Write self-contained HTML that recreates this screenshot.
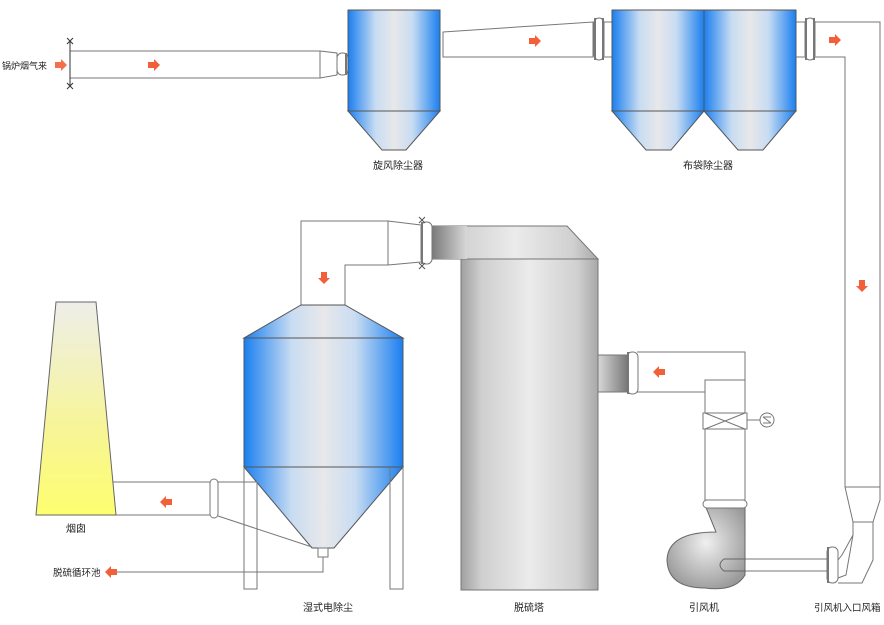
<!DOCTYPE html>
<html><head><meta charset="utf-8"><style>
html,body{margin:0;padding:0;background:#fff;}
svg{display:block;}
text{font-family:"Liberation Sans","Noto Sans CJK SC",sans-serif;font-size:10px;fill:#222;}
</style></head><body>
<svg width="884" height="625" viewBox="0 0 884 625" xmlns="http://www.w3.org/2000/svg">
<defs>
<linearGradient id="blue" x1="0" x2="1" y1="0" y2="0">
<stop offset="0" stop-color="#1a7ff0"/><stop offset="0.3" stop-color="#c8dcf2"/><stop offset="0.5" stop-color="#e8e8ea"/><stop offset="0.7" stop-color="#c8dcf2"/><stop offset="1" stop-color="#1a7ff0"/>
</linearGradient>
<linearGradient id="gray" x1="0" x2="1" y1="0" y2="0">
<stop offset="0" stop-color="#a0a0a0"/><stop offset="0.15" stop-color="#cfcfcf"/><stop offset="0.5" stop-color="#ebebeb"/><stop offset="0.85" stop-color="#d0d0d0"/><stop offset="1" stop-color="#a8a8a8"/>
</linearGradient>
<linearGradient id="grayd" x1="0" x2="1" y1="0" y2="0">
<stop offset="0" stop-color="#7a7a7a"/><stop offset="1" stop-color="#d8d8d8"/>
</linearGradient>
<linearGradient id="grayd2" x1="1" x2="0" y1="0" y2="0">
<stop offset="0" stop-color="#7a7a7a"/><stop offset="1" stop-color="#d8d8d8"/>
</linearGradient>
<linearGradient id="yel" x1="0" x2="0" y1="0" y2="1">
<stop offset="0" stop-color="#eeeeea"/><stop offset="0.6" stop-color="#f7f596"/><stop offset="1" stop-color="#fefe70"/>
</linearGradient>
<radialGradient id="fan" cx="0.5" cy="0.45" r="0.6">
<stop offset="0" stop-color="#f0f0f0"/><stop offset="1" stop-color="#999"/>
</radialGradient>
</defs>
<g fill="none" stroke="#777" stroke-width="1">
<rect x="70" y="51" width="250" height="27" fill="#fff"/>
<path d="M320 51 L337 53 L337 75 L320 78"/>
<path d="M67 38 L73 44 M73 38 L67 44 M67 83 L73 89 M73 83 L67 89" stroke="#333"/>
<line x1="70" y1="41" x2="70" y2="86" stroke="#333"/>
<rect x="337" y="53" width="11" height="22" rx="5"/>
<line x1="346" y1="53" x2="346" y2="75" stroke-width="2"/>
<rect x="348" y="10" width="92" height="101" fill="url(#blue)" stroke="#555"/>
<path d="M348 111 L440 111 L406 150 L382 150 Z" fill="url(#blue)" stroke="#555"/>
<path d="M443 32 L593 22 L593 57 L443 57 Z" fill="#fff"/>
<rect x="594" y="18" width="10" height="42" rx="5" fill="#fff"/>
<line x1="595" y1="18" x2="595" y2="60" stroke-width="2"/>
<line x1="603" y1="18" x2="603" y2="60" stroke-width="2"/>
<line x1="604" y1="22" x2="612" y2="22"/><line x1="604" y1="57" x2="612" y2="57"/>
<rect x="612" y="10" width="92" height="101" fill="url(#blue)" stroke="#555"/>
<rect x="704" y="10" width="92" height="101" fill="url(#blue)" stroke="#555"/>
<path d="M612 111 L704 111 L671 150 L646 150 Z" fill="url(#blue)" stroke="#555"/>
<path d="M704 111 L796 111 L763 150 L738 150 Z" fill="url(#blue)" stroke="#555"/>
<line x1="796" y1="22" x2="805" y2="22"/><line x1="796" y1="57" x2="805" y2="57"/>
<rect x="805" y="18" width="10" height="42" rx="5" fill="#fff"/>
<line x1="806" y1="18" x2="806" y2="60" stroke-width="2"/>
<line x1="814" y1="18" x2="814" y2="60" stroke-width="2"/>
<path d="M815 22 L880 22 L880 487 M815 57 L845 57 L845 487"/>
<path d="M845 487 L880 487 L880 500 L873 522 L853 522 L845 487" />
<path d="M853 522 L873 522 L873 560 L862 583 L838 583 M853 522 L853 535 L842 555 L838 560 M853 535 L846 575 L838 578"/>
<rect x="827" y="547" width="11" height="36" rx="5" fill="#fff"/>
<line x1="828" y1="547" x2="828" y2="583" stroke-width="2"/>
<path d="M718 559 L827 559 M718 571 L827 571"/>
<path d="M705 505 L745 505 L745 575 Q735 592 705 588 Q668 588 667 560 Q668 532 716 532 L705 505 Z" fill="url(#fan)" stroke="#666"/>
<path d="M724 559 L745 559 M724 571 L745 571 M724 559 Q716 565 724 571" stroke="#666"/>
<rect x="703" y="500" width="44" height="8" rx="4" fill="#fff"/>
<rect x="705" y="380" width="40" height="120"/>
<rect x="703" y="413" width="44" height="16" fill="#fff"/>
<path d="M705 413 L745 429 M745 413 L705 429"/>
<line x1="747" y1="420" x2="760" y2="420"/>
<circle cx="767" cy="420" r="7" fill="#fff"/>
<path d="M763 417 L771 417 M763 423 L771 423 M763 417 L771 423"/>
<path d="M637 352 L745 352 L745 413 M637 392 L705 392 L705 413"/>
<rect x="461" y="259" width="137" height="331" fill="url(#gray)" stroke="#777"/>
<path d="M432 226 L567 226 L598 259 L432 259 Z" fill="url(#gray)" stroke="#777"/>
<rect x="432" y="226" width="35" height="33" fill="url(#grayd)" stroke="none"/>
<rect x="598" y="355" width="29" height="37" fill="url(#grayd2)" stroke="#777"/>
<rect x="627" y="352" width="11" height="42" rx="5" fill="#fff"/>
<line x1="628" y1="352" x2="628" y2="394" stroke-width="2"/>
<rect x="421" y="222" width="11" height="42" rx="5" fill="#fff"/>
<line x1="422" y1="222" x2="422" y2="264" stroke-width="2"/>
<path d="M419 217 L425 223 M425 217 L419 223 M419 263 L425 269 M425 263 L419 269" stroke="#555"/>
<path d="M301 305 L301 221 L388 221 L421 225 M345 305 L345 265 L388 265 L421 262 M388 221 L388 265"/>
<path d="M301 305 L345 305 L403 338 L244 338 Z" fill="url(#blue)" stroke="#555"/>
<rect x="244" y="338" width="159" height="129" fill="url(#blue)" stroke="#555"/>
<path d="M244 467 L403 467 L334 548 L312 548 Z" fill="url(#blue)" stroke="#555"/>
<path d="M244 467 L244 589 L257 589 L257 482 M390 467 L390 589 L403 589 L403 467"/>
<rect x="318" y="548" width="10" height="9" fill="#fff"/>
<path d="M323 557 L323 572 L110 572"/>
<path d="M113 482 L210 482 M113 515 L210 515 M218 482 L257 482 M218 516 L312 547"/>
<rect x="210" y="479" width="8" height="39" rx="4" fill="#fff"/>
<path d="M56 302 L96 302 L116 515 L36 515 Z" fill="url(#yel)" stroke="#666"/>
</g>
<g fill="#f2603a">
<path d="M55 62 L61 62 L61 59 L67 65 L61 71 L61 68 L55 68 Z" opacity="0.9"/>
<path d="M148 62 L154 62 L154 59 L160 65 L154 71 L154 68 L148 68 Z"/>
<path d="M529 38 L535 38 L535 35 L541 41 L535 47 L535 44 L529 44 Z"/>
<path d="M829 37 L835 37 L835 34 L841 40 L835 46 L835 43 L829 43 Z"/>
<path d="M859 280 L859 286 L856 286 L862 292 L868 286 L865 286 L865 280 Z"/>
<path d="M321 272 L321 278 L318 278 L324 284 L330 278 L327 278 L327 272 Z"/>
<path d="M665 369 L659 369 L659 366 L653 372 L659 378 L659 375 L665 375 Z"/>
<path d="M172 499 L166 499 L166 496 L160 502 L166 508 L166 505 L172 505 Z"/>
<path d="M117 569 L111 569 L111 566 L105 572 L111 578 L111 575 L117 575 Z"/>
</g>
<text x="2" y="69" style="font-size:9px">锅炉烟气来</text>
<text x="373" y="169">旋风除尘器</text>
<text x="683" y="169">布袋除尘器</text>
<text x="66" y="532">烟囱</text>
<text x="53" y="576" style="font-size:9.5px">脱硫循环池</text>
<text x="303" y="611">湿式电除尘</text>
<text x="514" y="611">脱硫塔</text>
<text x="689" y="611">引风机</text>
<text x="814" y="611" style="font-size:9.5px">引风机入口风箱</text>
</svg>
</body></html>
